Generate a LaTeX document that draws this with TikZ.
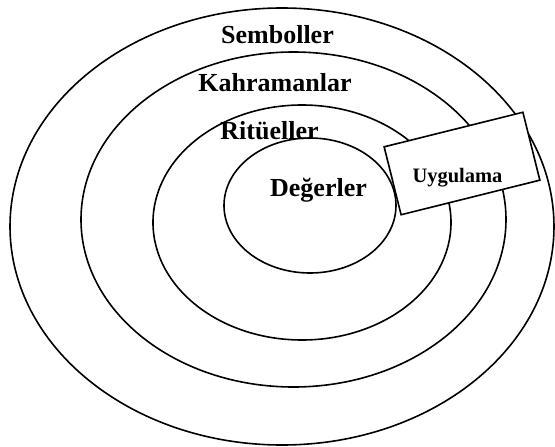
\documentclass[tikz,border=0pt]{standalone}
\usepackage{fontspec}
\setmainfont{Liberation Serif}
\usetikzlibrary{shapes.geometric}
\begin{document}
\begin{tikzpicture}[x=1pt,y=-1pt,
  ring/.style={draw=black,line width=1.6pt},
  lbl/.style={font=\bfseries\fontsize{26}{30}\selectfont,anchor=base,inner sep=0pt},
  ubox/.style={draw=black,fill=white,line width=1.6pt,minimum width=143pt,minimum height=70pt,rotate=14,inner sep=0pt}]
\useasboundingbox (0,0) rectangle (555,447);
\draw[ring] (282,226.5) ellipse [x radius=272, y radius=218.5];
\draw[ring] (293.5,219.5) ellipse [x radius=212.5, y radius=167.5];
\draw[ring] (302,222.5) ellipse [x radius=149, y radius=117.5];
\draw[ring] (310,205.5) ellipse [x radius=86, y radius=67.5];
\node[ubox] (box) at (462,163.5) {};
\node[lbl] (semb) at (277.5,43) {Semboller};
\node[lbl] (kahr) at (275,91) {Kahramanlar};
\node[lbl] (ritu) at (269.5,139) {Ritüeller};
\node[lbl] (deger) at (318.5,196) {Değerler};
\node[lbl,font=\bfseries\fontsize{20.5}{24}\selectfont] (uyg) at (457.5,182) {Uygulama};
\end{tikzpicture}
\end{document}
